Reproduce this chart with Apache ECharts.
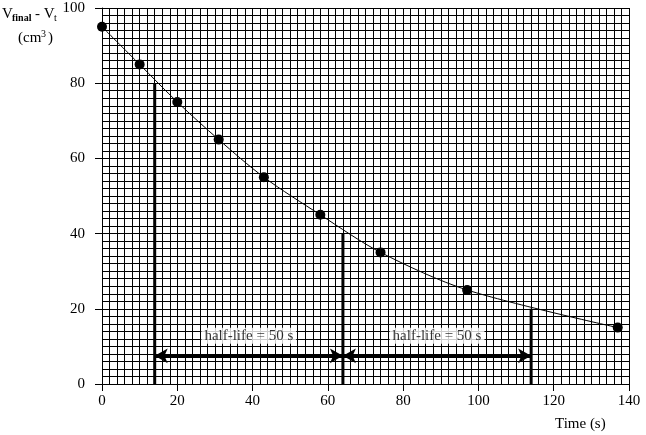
<!DOCTYPE html>
<html>
<head>
<meta charset="utf-8">
<script src="https://cdn.jsdelivr.net/npm/echarts@6/dist/echarts.min.js"></script>
<style>
html,body{margin:0;padding:0;background:#fff;}
#c{width:646px;height:435px;}
</style>
</head>
<body>
<div id="c"></div>
<script>
const times = [0, 10, 20, 31, 43, 58, 74, 97, 137];
const volumes = [95, 85, 75, 65, 55, 45, 35, 25, 15];
const halfLifeTimes = [14, 64, 114];
const halfLifeVolumes = [80, 40, 20];
const arrowLevel = 7.5;
const halfLifeLabels = ['half-life = 50 s', 'half-life = 50 s'];
const labelPositions = [[39, 12.8], [89, 12.8]];
const xTicks = [0, 20, 40, 60, 80, 100, 120, 140];
const yTicks = [0, 20, 40, 60, 80, 100];

const FONT = 'Liberation Serif';
const chart = echarts.init(document.getElementById('c'), null, {renderer: 'canvas'});

const verticals = halfLifeTimes.map((t, i) => ({
  type: 'line',
  data: [[t, 0], [t, halfLifeVolumes[i]]],
  symbol: 'none',
  lineStyle: {color: '#000', width: 3},
  z: 4,
  silent: true,
  animation: false
}));

const arrowPairs = [];
for (let i = 0; i < halfLifeTimes.length - 1; i++) {
  arrowPairs.push([{coord: [halfLifeTimes[i], arrowLevel]}, {coord: [halfLifeTimes[i + 1], arrowLevel]}]);
}

const option = {
  animation: false,
  backgroundColor: '#fff',
  grid: {left: 102, right: 17, top: 8, bottom: 51, containLabel: false},
  xAxis: {
    type: 'value', min: 0, max: 140, interval: 20,
    axisLine: {show: true, lineStyle: {color: '#000', width: 1}},
    axisTick: {show: true, length: 7, inside: false, lineStyle: {color: '#000'}},
    axisLabel: {color: '#000', fontFamily: FONT, fontSize: 15, margin: 10},
    splitLine: {show: true, lineStyle: {color: '#000', width: 1}},
    minorTick: {show: false, splitNumber: 10},
    minorSplitLine: {show: true, lineStyle: {color: '#000', width: 1}}
  },
  yAxis: {
    type: 'value', min: 0, max: 100, interval: 20,
    axisLine: {show: true, lineStyle: {color: '#000', width: 1}},
    axisTick: {show: true, length: 7, inside: false, lineStyle: {color: '#000'}},
    axisLabel: {color: '#000', fontFamily: FONT, fontSize: 15, margin: 17},
    splitLine: {show: true, lineStyle: {color: '#000', width: 1}},
    minorTick: {show: false, splitNumber: 10},
    minorSplitLine: {show: true, lineStyle: {color: '#000', width: 1}}
  },
  series: [
    {
      type: 'line',
      data: times.map((t, i) => [t, volumes[i]]),
      smooth: 0.3,
      symbol: 'circle',
      symbolSize: 10,
      itemStyle: {color: '#000'},
      lineStyle: {color: '#000', width: 1},
      z: 3,
      markLine: {
        silent: true,
        symbol: ['arrow', 'arrow'],
        symbolSize: [11, 13],
        label: {show: false},
        lineStyle: {color: '#000', width: 3, type: 'solid'},
        data: arrowPairs,
        z: 5
      }
    },
    ...verticals,
    {
      type: 'scatter',
      data: labelPositions.map((p, i) => ({value: p, name: halfLifeLabels[i]})),
      symbolSize: 0,
      z: 6,
      label: {
        show: true, position: 'inside',
        formatter: p => p.name,
        color: '#000', fontFamily: FONT, fontSize: 15,
        backgroundColor: '#fff', padding: [1, 3, 0, 3]
      }
    }
  ],
  graphic: [
    {type: 'text', left: 2, top: 7, style: {text: 'V', font: '15px "Liberation Serif"', fill: '#000'}},
    {type: 'text', left: 12, top: 13, style: {text: 'final', font: 'bold 10px "Liberation Serif"', fill: '#000'}},
    {type: 'text', left: 35, top: 7, style: {text: '- V', font: '15px "Liberation Serif"', fill: '#000'}},
    {type: 'text', left: 54, top: 13, style: {text: 't', font: '10px "Liberation Serif"', fill: '#000'}},
    {type: 'text', left: 18, top: 31, style: {text: '(cm', font: '15px "Liberation Serif"', fill: '#000'}},
    {type: 'text', left: 41, top: 29, style: {text: '3', font: '10px "Liberation Serif"', fill: '#000'}},
    {type: 'text', left: 48, top: 31, style: {text: ')', font: '15px "Liberation Serif"', fill: '#000'}},
    {type: 'text', left: 555, top: 417, style: {text: 'Time (s)', font: '15px "Liberation Serif"', fill: '#000'}}
  ]
};
chart.setOption(option);
</script>
</body>
</html>
